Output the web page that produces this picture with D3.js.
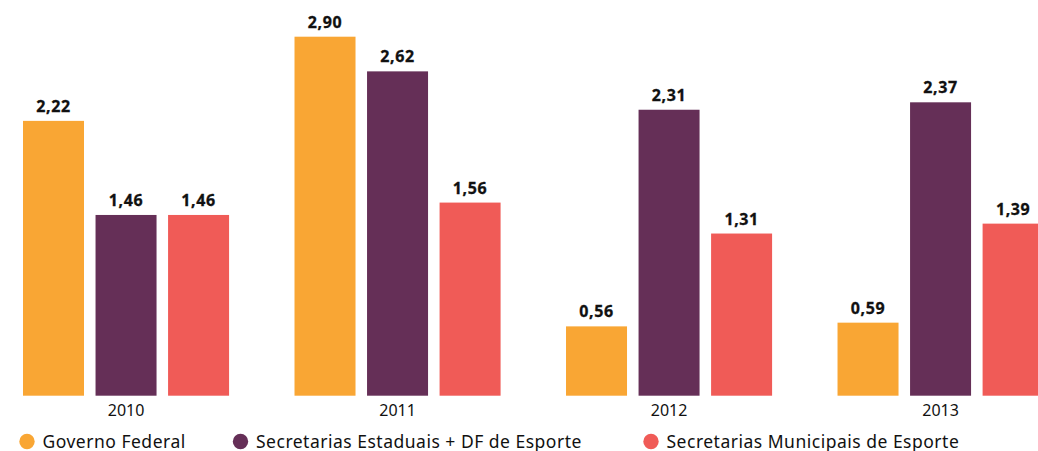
<!DOCTYPE html>
<html>
<head>
<meta charset="utf-8">
<script src="https://cdn.jsdelivr.net/npm/d3@7"></script>
<style>
  html, body { margin: 0; padding: 0; background: #fff; }
  svg { display: block; }
  text { font-family: "Noto Sans", "DejaVu Sans", sans-serif; fill: #111; }
</style>
</head>
<body>
<svg id="chart" width="1038" height="451"></svg>
<script>
// Investment by government sphere, per year (values in the units shown on labels)
const years = ["2010", "2011", "2012", "2013"];
const seriesNames = [
  "Governo Federal",
  "Secretarias Estaduais + DF de Esporte",
  "Secretarias Municipais de Esporte"
];
const governoFederal = [2.22, 2.90, 0.56, 0.59];
const secretariasEstaduais = [1.46, 2.62, 2.31, 2.37];
const secretariasMunicipais = [1.46, 1.56, 1.31, 1.39];
const seriesColors = ["#F9A634", "#652F57", "#F05B57"];

const seriesValues = [governoFederal, secretariasEstaduais, secretariasMunicipais];
const rows = years.map((y, i) => ({
  year: y,
  values: seriesNames.map((s, k) => ({ series: s, value: seriesValues[k][i], k }))
}));

const svg = d3.select("#chart");

const x0 = d3.scaleBand()
  .domain(years)
  .range([23, 1043.6])
  .paddingInner(0.241)
  .paddingOuter(0);

const x1 = d3.scaleBand()
  .domain(seriesNames)
  .range([0, x0.bandwidth()])
  .paddingInner(0.159)
  .paddingOuter(0);

const y = d3.scaleLinear()
  .domain([0, 2.90])
  .range([395.7, 36.7]);

const fmt = v => d3.format(".2f")(v).replace(".", ",");

const groups = svg.append("g")
  .selectAll("g")
  .data(rows)
  .join("g")
  .attr("transform", d => `translate(${x0(d.year)},0)`);

groups.selectAll("rect")
  .data(d => d.values)
  .join("rect")
  .attr("x", d => x1(d.series))
  .attr("width", x1.bandwidth())
  .attr("y", d => y(d.value))
  .attr("height", d => y(0) - y(d.value))
  .attr("fill", d => seriesColors[d.k]);

groups.selectAll("text.value")
  .data(d => d.values)
  .join("text")
  .attr("class", "value")
  .attr("x", d => x1(d.series) + x1.bandwidth() / 2)
  .attr("y", d => y(d.value) - 9)
  .attr("text-anchor", "middle")
  .style("font-size", "16px")
  .style("font-weight", "700")
  .style("letter-spacing", "0.6px")
  .style("stroke", "#111")
  .style("stroke-width", "0.3px")
  .text(d => fmt(d.value));

// Year axis under each group
const xAxis = d3.axisBottom(x0).tickSize(0).tickPadding(0);
const axisG = svg.append("g")
  .attr("transform", `translate(0,${y(0)})`)
  .call(xAxis);
axisG.select(".domain").remove();
axisG.selectAll("text")
  .attr("dy", null)
  .attr("y", 20)
  .style("font-size", "16px")
  .style("font-family", "\"Noto Sans\", sans-serif")
  .attr("fill", "#111");

// Legend
const legendX = [27, 240.5, 651];
const legend = svg.append("g")
  .selectAll("g")
  .data(seriesNames)
  .join("g")
  .attr("transform", (d, i) => `translate(${legendX[i]},441.5)`);

legend.append("circle")
  .attr("r", 7.7)
  .attr("fill", (d, i) => seriesColors[i]);

legend.append("text")
  .attr("x", 15.5)
  .attr("y", 6)
  .style("font-size", "17.5px")
  .style("letter-spacing", "0.5px")
  .text(d => d);
</script>
</body>
</html>
